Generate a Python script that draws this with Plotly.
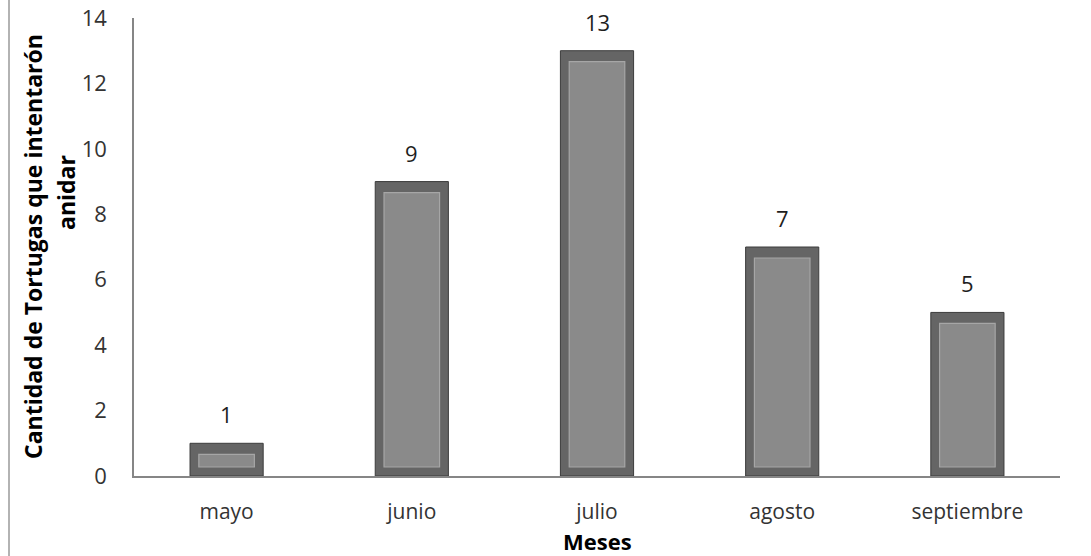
import plotly.graph_objects as go

# Nesting attempts per month
meses = ["mayo", "junio", "julio", "agosto", "septiembre"]
tortugas = [1, 9, 13, 7, 5]
y_ticks = [0, 2, 4, 6, 8, 10, 12, 14]

Y_MAX = 14
PLOT_L, PLOT_W = 134, 926   # px geometry of the plotting area
PLOT_T, PLOT_H = 18, 458
px = Y_MAX / PLOT_H  # data units per pixel
top_inset = 11 * px
bottom_inset = 9 * px

font_family = "'Open Sans', Lato, sans-serif"


def paper_x(p):
    return (p - PLOT_L) / PLOT_W


def paper_y(p):
    return 1 - (p - PLOT_T) / PLOT_H


fig = go.Figure()

# Outer frame of each bevelled bar
fig.add_trace(go.Bar(
    x=meses, y=tortugas, width=0.395,
    marker=dict(color="#656565", line=dict(color="#3c3c3c", width=1)),
    hoverinfo="x+y", showlegend=False,
))

# Lighter inner face of the bevel
fig.add_trace(go.Bar(
    x=meses,
    y=[v - top_inset - bottom_inset for v in tortugas],
    base=[bottom_inset] * len(tortugas),
    width=0.30,
    marker=dict(color="#8a8a8a", line=dict(color="#a6a6a6", width=1.2)),
    hoverinfo="skip", showlegend=False,
))

# Value labels above the bars
for m, v in zip(meses, tortugas):
    fig.add_annotation(
        x=m, y=v, text=str(v), showarrow=False, yshift=29,
        font=dict(family=font_family, size=22, color="#1e1e1e"),
    )

# Axis titles
fig.add_annotation(
    xref="paper", yref="paper", x=0.5, y=paper_y(541), yanchor="middle",
    text="<b>Meses</b>", showarrow=False,
    font=dict(family=font_family, size=22, color="#000000"),
)
fig.add_annotation(
    xref="paper", yref="paper", x=paper_x(33), y=paper_y(247),
    xanchor="center", yanchor="middle",
    text="<b>Cantidad de Tortugas que intentarón</b>",
    textangle=-90, showarrow=False,
    font=dict(family=font_family, size=23, color="#000000"),
)
fig.add_annotation(
    xref="paper", yref="paper", x=paper_x(66), y=paper_y(193),
    xanchor="center", yanchor="middle",
    text="<b>anidar</b>",
    textangle=-90, showarrow=False,
    font=dict(family=font_family, size=23, color="#000000"),
)

# Thin frame line at the far left of the figure
fig.add_shape(
    type="line", xref="paper", yref="paper",
    x0=paper_x(9), x1=paper_x(9),
    y0=paper_y(556), y1=paper_y(0),
    line=dict(color="#9a9a9a", width=1.5),
)

fig.update_layout(
    width=1091, height=556,
    margin=dict(l=PLOT_L, r=1091 - PLOT_L - PLOT_W, t=PLOT_T,
                b=556 - PLOT_T - PLOT_H, autoexpand=False),
    paper_bgcolor="white", plot_bgcolor="white",
    barmode="overlay",
    font=dict(family=font_family, size=22, color="#404040"),
    xaxis=dict(
        showline=True, linecolor="#868686", linewidth=1.5,
        showgrid=False, ticks="", ticklabelstandoff=16, automargin=False,
        tickfont=dict(size=21, color="#333333"),
    ),
    yaxis=dict(
        range=[0, Y_MAX], tickvals=y_ticks,
        showline=True, linecolor="#868686", linewidth=1.5,
        showgrid=False, zeroline=False, ticks="", ticklabelstandoff=21,
        automargin=False,
        tickfont=dict(size=22, color="#333333"),
    ),
)

fig.write_html("out.html")
